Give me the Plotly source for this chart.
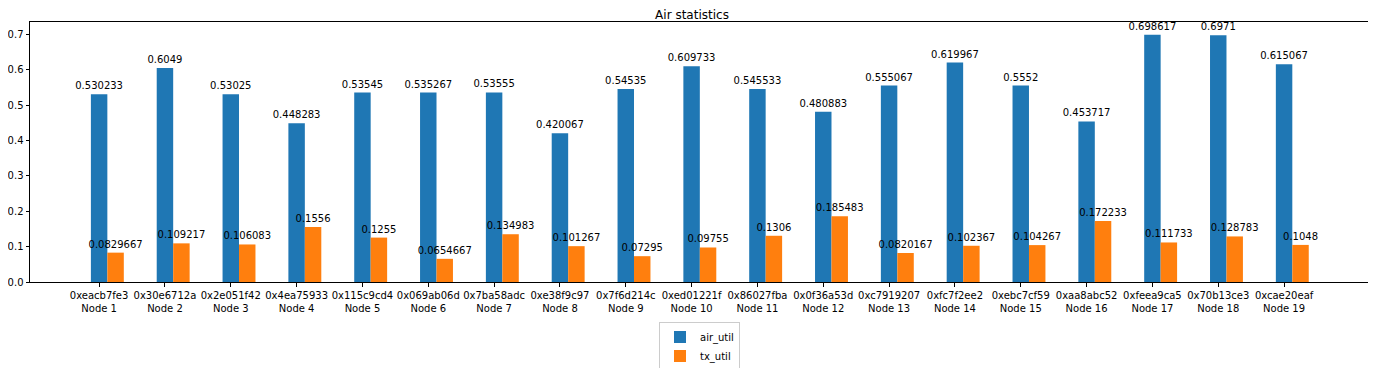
import plotly.graph_objects as go

node_ids = ["0xeacb7fe3", "0x30e6712a", "0x2e051f42", "0x4ea75933", "0x115c9cd4",
            "0x069ab06d", "0x7ba58adc", "0xe38f9c97", "0x7f6d214c", "0xed01221f",
            "0x86027fba", "0x0f36a53d", "0xc7919207", "0xfc7f2ee2", "0xebc7cf59",
            "0xaa8abc52", "0xfeea9ca5", "0x70b13ce3", "0xcae20eaf"]
node_names = [f"Node {i}" for i in range(1, 20)]
air_util = [0.530233, 0.6049, 0.53025, 0.448283, 0.53545, 0.535267, 0.53555, 0.420067,
            0.54535, 0.609733, 0.545533, 0.480883, 0.555067, 0.619967, 0.5552, 0.453717,
            0.698617, 0.6971, 0.615067]
tx_util = [0.0829667, 0.109217, 0.106083, 0.1556, 0.1255, 0.0654667, 0.134983, 0.101267,
           0.07295, 0.09755, 0.1306, 0.185483, 0.0820167, 0.102367, 0.104267, 0.172233,
           0.111733, 0.128783, 0.1048]

idx = list(range(len(node_ids)))
ticktext = [f"{a}<br>{b}" for a, b in zip(node_ids, node_names)]
font = dict(family="DejaVu Sans", size=10, color="#000000")

W, H = 1368, 360  # page body adds an 8px offset

fig = go.Figure()
fig.add_trace(go.Bar(
    x=idx, y=air_util, name="air_util", width=0.25, offset=-0.125,
    marker=dict(color="#1f77b4", line=dict(width=0)),
    text=[f"{v:g}" for v in air_util], textposition="outside",
    constraintext="none", cliponaxis=False, textfont=font,
))
fig.add_trace(go.Bar(
    x=idx, y=tx_util, name="tx_util", width=0.25, offset=0.125,
    marker=dict(color="#ff7f0e", line=dict(width=0)),
    text=[f"{v:g}" for v in tx_util], textposition="outside",
    constraintext="none", cliponaxis=False, textfont=font,
))

fig.update_layout(
    width=W, height=H,
    margin=dict(l=22, r=7, t=14, b=86, autoexpand=False),
    paper_bgcolor="white", plot_bgcolor="white",
    barmode="overlay",
    font=font,
    title=dict(text="Air statistics", x=0.5, xanchor="center", y=1 - 6.5 / H,
               yanchor="middle", font=dict(family="DejaVu Sans", size=12, color="#000000")),
    legend=dict(orientation="v", x=0.5, xanchor="center", y=-0.152, yanchor="top",
                bordercolor="#cccccc", borderwidth=1, bgcolor="white",
                font=dict(family="DejaVu Sans", size=10, color="#000000"),
                tracegroupgap=0),
    showlegend=True,
)
fig.update_xaxes(
    range=[-1.05, 19.29], tickmode="array", tickvals=idx, ticktext=ticktext,
    showgrid=False, zeroline=False, showline=True, linecolor="#000000", linewidth=1,
    mirror=True, ticks="outside", ticklen=3.5, tickcolor="#000000", tickangle=0,
    tickfont=font, automargin=False,
)
fig.update_yaxes(
    range=[0, 0.7347], tickmode="array", tickvals=[0, 0.1, 0.2, 0.3, 0.4, 0.5, 0.6, 0.7],
    tickformat=".1f", showgrid=False, zeroline=False, showline=True, linecolor="#000000",
    linewidth=1, mirror=True, ticks="outside", ticklen=3.5, tickcolor="#000000",
    tickfont=font, automargin=False,
)

fig.write_html("out.html")
